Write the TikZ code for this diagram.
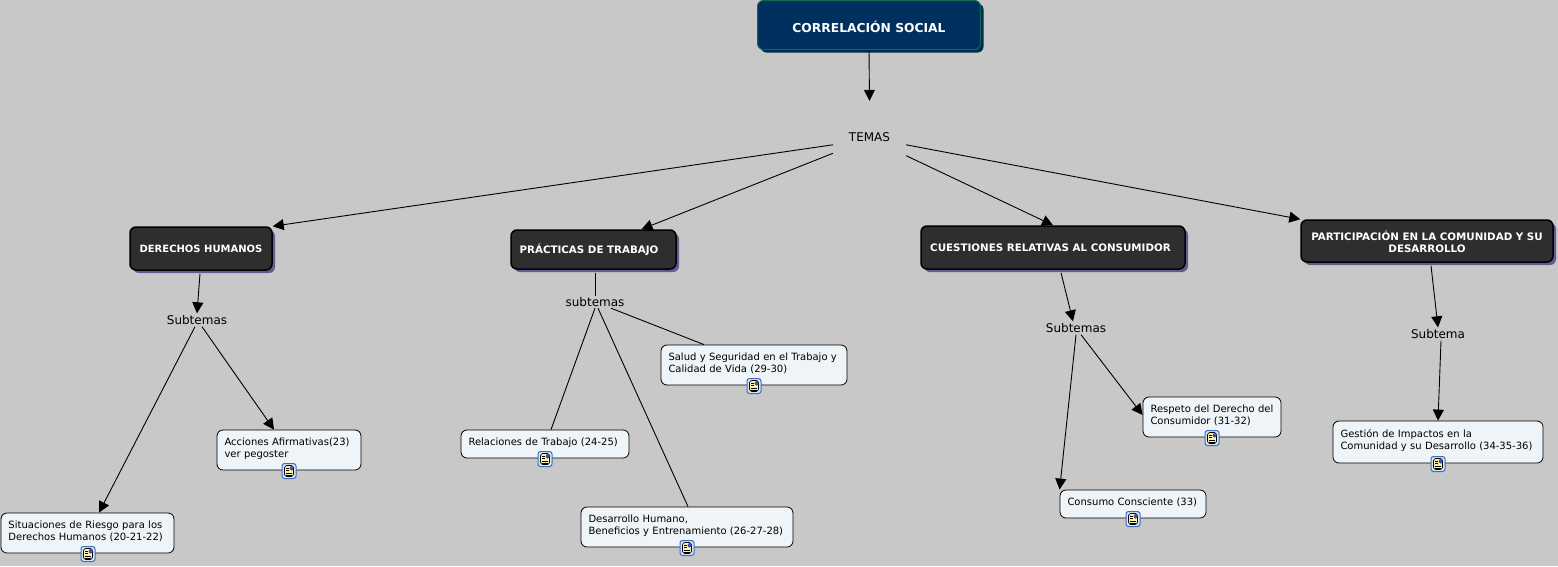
\documentclass[tikz,border=0pt]{standalone}
\usepackage{fontspec}
\setmainfont{DejaVu Sans}
\usetikzlibrary{arrows.meta,shadows}
\definecolor{canvasgrey}{HTML}{C8C8C8}
\definecolor{titleblue}{HTML}{003060}
\definecolor{titleedge}{HTML}{0B6B50}
\definecolor{themedark}{HTML}{2E2E2E}
\definecolor{themeshade}{HTML}{5E5E94}
\definecolor{notefill}{HTML}{EEF4F7}
\definecolor{iconframe}{HTML}{3A6CC0}
\definecolor{iconfill}{HTML}{D8E6F8}
\definecolor{iconpage}{HTML}{FBF3A8}
\newcommand{\notetext}[1]{\begin{tabular}{@{}l@{}}#1\\[1pt]\end{tabular}}
\tikzset{
    link/.style={draw=black,line width=0.9pt},
    linkarrow/.style={link,-{Triangle[length=11pt,width=11pt]}},
    titlebox/.style={rectangle,rounded corners=6pt,draw=titleedge,line width=1pt,fill=titleblue,text=white,
        font=\fontsize{12.3}{14}\selectfont\bfseries,minimum width=223pt,minimum height=49pt,
        drop shadow={shadow xshift=3pt,shadow yshift=-3pt,fill=titleblue!85!black,opacity=1}},
    themebox/.style={rectangle,rounded corners=6pt,draw=black,line width=1.5pt,fill=themedark,text=white,
        font=\fontsize{10.3}{12}\selectfont\bfseries,align=center,inner sep=0pt,
        drop shadow={shadow xshift=3pt,shadow yshift=-3pt,fill=themeshade,opacity=1}},
    notebox/.style={rectangle,rounded corners=6pt,draw=black,line width=0.8pt,fill=notefill,
        font=\fontsize{10}{12}\selectfont,align=left,inner xsep=7.5pt,inner ysep=0pt,text width=#1pt-15pt},
    plainlabel/.style={rectangle,font=\fontsize{12}{14}\selectfont,inner sep=0pt},
    docicon/.style={rectangle,rounded corners=2.5pt,draw=iconframe,line width=1pt,fill=iconfill,
        minimum width=14pt,minimum height=15pt,inner sep=0pt,
        path picture={
            \draw[black,line width=0.7pt,fill=iconpage] ([shift={(-4.5pt,-5.5pt)}]path picture bounding box.center) rectangle ++(9pt,11pt);
            \draw[black,line width=0.7pt] ([shift={(-3pt,3pt)}]path picture bounding box.center) -- ++(2.5pt,0);
            \draw[black,line width=0.7pt] ([shift={(-3pt,0.5pt)}]path picture bounding box.center) -- ++(2.5pt,0);
            \draw[black,line width=0.7pt] ([shift={(-3pt,-2pt)}]path picture bounding box.center) -- ++(6pt,0);
            \draw[black,line width=0.7pt] ([shift={(-3pt,-4pt)}]path picture bounding box.center) -- ++(6pt,0);
            \fill[blue!40!gray] ([shift={(0.5pt,0.5pt)}]path picture bounding box.center) rectangle ++(4pt,4.5pt);
        }}
}
\begin{document}
\begin{tikzpicture}[x=1pt,y=-1pt]
    \path[use as bounding box,fill=canvasgrey] (0,0) rectangle (1558,566);

    \node[titlebox] (correlacion) at (869,25) {\rule{0pt}{15pt}CORRELACIÓN SOCIAL};
    \node[plainlabel,minimum width=73pt,minimum height=72pt] (temas) at (869.5,137) {TEMAS};

    \node[themebox,font=\fontsize{10}{12}\selectfont\bfseries,minimum width=142pt,minimum height=43pt] (derechos) at (201,248.5) {DERECHOS HUMANOS};
    \node[themebox,minimum width=165pt,minimum height=39pt] (practicas) at (593.5,249.5) {\rule{0pt}{10pt}PRÁCTICAS DE TRABAJO\hspace*{9pt}};
    \node[themebox,minimum width=264pt,minimum height=43pt] (cuestiones) at (1053,247.5) {CUESTIONES RELATIVAS AL CONSUMIDOR\hspace*{5pt}};
    \node[themebox,minimum width=252pt,minimum height=42pt] (participacion) at (1427,241) {\rule{0pt}{12pt}PARTICIPACIÓN EN LA COMUNIDAD Y SU\\DESARROLLO};

    \node[plainlabel,minimum width=60pt,minimum height=13pt] (subderechos) at (197,320) {Subtemas};
    \node[plainlabel,minimum width=60pt,minimum height=12pt] (subpracticas) at (595,302) {subtemas};
    \node[plainlabel,minimum width=60pt,minimum height=13pt] (subcuestiones) at (1076,328) {Subtemas};
    \node[plainlabel,minimum width=56pt,minimum height=13pt] (subparticipacion) at (1438,334) {Subtema};

    \node[notebox=173,minimum height=40pt] (situaciones) at (87.5,533) {\notetext{Situaciones de Riesgo para los\\Derechos Humanos (20-21-22)}};
    \node[notebox=144,minimum height=40pt] (acciones) at (289,450) {\notetext{Acciones Afirmativas(23)\\ver pegoster}};
    \node[notebox=168,minimum height=28pt] (relaciones) at (545,444) {\notetext{Relaciones de Trabajo (24-25)}};
    \node[notebox=212,minimum height=40pt] (desarrollo) at (687,527) {\notetext{Desarrollo Humano,\\Beneficios y Entrenamiento (26-27-28)}};
    \node[notebox=186,minimum height=40pt] (salud) at (754,365) {\notetext{Salud y Seguridad en el Trabajo y\\Calidad de Vida (29-30)}};
    \node[notebox=138,minimum height=40pt] (respeto) at (1212,417) {\notetext{Respeto del Derecho del\\Consumidor (31-32)}};
    \node[notebox=146,minimum height=28pt] (consumo) at (1133,504) {\notetext{Consumo Consciente (33)}};
    \node[notebox=210,minimum height=42pt] (gestion) at (1438,442) {\notetext{Gestión de Impactos en la\\Comunidad y su Desarrollo (34-35-36)}};

    \node[docicon] (iconsituaciones) at (88,554) {};
    \node[docicon] (iconacciones) at (289,471) {};
    \node[docicon] (iconrelaciones) at (545,459) {};
    \node[docicon] (icondesarrollo) at (687,548) {};
    \node[docicon] (iconsalud) at (754,386) {};
    \node[docicon] (iconrespeto) at (1212,438) {};
    \node[docicon] (iconconsumo) at (1133,519) {};
    \node[docicon] (icongestion) at (1438,464) {};

    \draw[linkarrow] (correlacion.south) -- (temas.north);
    \draw[linkarrow] (temas.192) -- (derechos.north east);
    \draw[linkarrow] (temas.204) -- ([xshift=48pt]practicas.north);
    \draw[linkarrow] (temas.-27) -- (cuestiones.north);
    \draw[linkarrow] (temas.-12) -- (participacion.north west);

    \draw[linkarrow] ([shift={(-1pt,-3pt)}]derechos.south) -- (subderechos.north);
    \draw[linkarrow] ([xshift=-2pt]subderechos.south) -- ([xshift=11.5pt]situaciones.north);
    \draw[linkarrow] ([xshift=5pt]subderechos.south) -- ([xshift=-15pt]acciones.north);

    \draw[link] ([shift={(1.5pt,-3pt)}]practicas.south) -- (subpracticas.north);
    \draw[link] (subpracticas.south) -- ([xshift=6pt]relaciones.north);
    \draw[link] ([xshift=3pt]subpracticas.south) -- ([xshift=1pt]desarrollo.north);
    \draw[link] ([xshift=16pt]subpracticas.south) -- ([xshift=-50pt]salud.north);

    \draw[linkarrow] ([shift={(8pt,-3pt)}]cuestiones.south) -- ([xshift=-3pt]subcuestiones.north);
    \draw[linkarrow] (subcuestiones.south) -- (consumo.north west);
    \draw[linkarrow] ([xshift=5pt]subcuestiones.south) -- ([yshift=2pt]respeto.west);

    \draw[linkarrow] ([shift={(4pt,-3pt)}]participacion.south) -- (subparticipacion.north);
    \draw[linkarrow] ([xshift=3pt]subparticipacion.south) -- (gestion.north);
\end{tikzpicture}
\end{document}
